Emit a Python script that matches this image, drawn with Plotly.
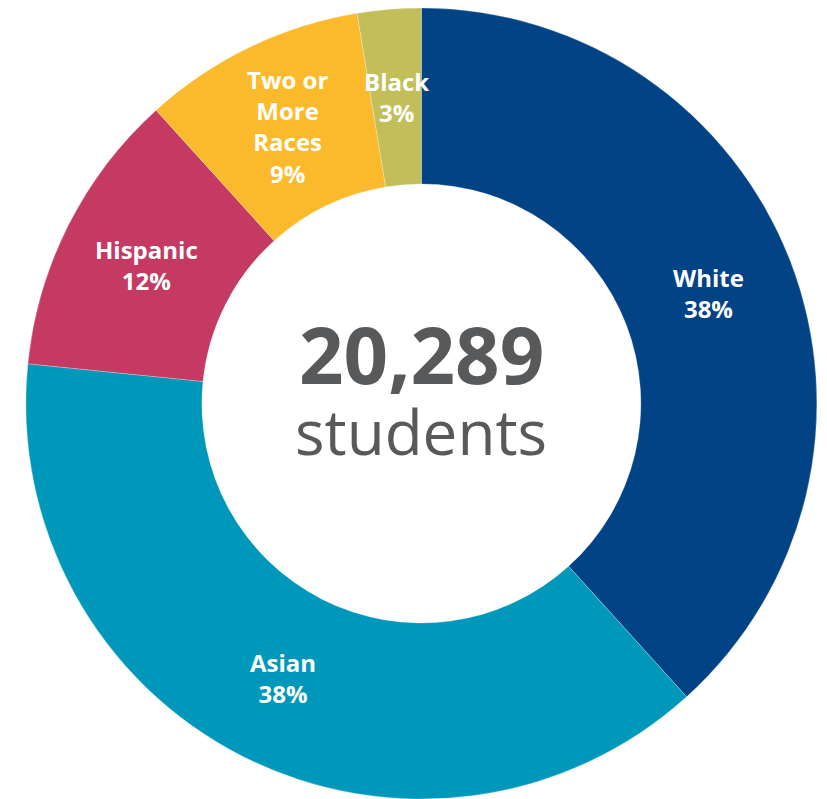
import math
import plotly.graph_objects as go

# ---- data ----
groups = ["White", "Asian", "Hispanic", "Two or More Races", "Black"]
shares = [38.3, 38.3, 11.7, 9.1, 2.6]
label_text = ["White<br>38%", "Asian<br>38%", "Hispanic<br>12%",
              "Two or<br>More<br>Races<br>9%", "Black<br>3%"]
colors = ["#024386", "#0098BA", "#C43A62", "#FBBA2B", "#C2BF5B"]
total_students = "20,289"
total_label = "students"

W, H = 827, 799
dom_x = [0.026, 0.993]
dom_y = [0.0, 0.99]
hole = 0.555

fig = go.Figure(go.Pie(
    labels=groups,
    values=shares,
    sort=False,
    direction="clockwise",
    rotation=0,
    hole=hole,
    marker=dict(colors=colors, line=dict(color="rgba(255,255,255,0.5)", width=0.5)),
    textinfo="none",
    hoverinfo="label+percent",
    showlegend=False,
    domain=dict(x=dom_x, y=dom_y),
))

# label positions derived from data (mid-angle, mid-radius of each slice)
cx = (dom_x[0] + dom_x[1]) / 2
cy = (dom_y[0] + dom_y[1]) / 2
r_out = min(W * (dom_x[1] - dom_x[0]), H * (dom_y[1] - dom_y[0])) / 2
r_mid = r_out * (1 + hole) / 2
tot = sum(shares)
cum = 0.0
annotations = []
for v, t in zip(shares, label_text):
    mid = (cum + v / 2) / tot * 2 * math.pi
    cum += v
    ax = cx + r_mid * math.sin(mid) / W
    ay = cy + r_mid * math.cos(mid) / H
    annotations.append(dict(
        x=ax, y=ay, xref="paper", yref="paper", text=t, showarrow=False,
        xanchor="center", yanchor="middle",
        font=dict(family="Open Sans", size=24, color="white", weight="bold"),
    ))

annotations.append(dict(
    x=cx, y=cy, xref="paper", yref="paper", text=total_students, showarrow=False,
    xanchor="center", yanchor="middle", yshift=49,
    font=dict(family="Open Sans", size=78, color="#58595B", weight="bold"),
))
annotations.append(dict(
    x=cx, y=cy, xref="paper", yref="paper", text=total_label, showarrow=False,
    xanchor="center", yanchor="middle", yshift=-28,
    font=dict(family="Open Sans", size=62, color="#58595B"),
))

fig.update_layout(
    width=W, height=H,
    margin=dict(l=0, r=0, t=0, b=0),
    paper_bgcolor="white",
    plot_bgcolor="white",
    annotations=annotations,
)

fig.write_html(
    "out.html",
    config={"displayModeBar": False},
    post_script="document.body.style.margin='0';document.body.style.overflow='hidden';",
)
